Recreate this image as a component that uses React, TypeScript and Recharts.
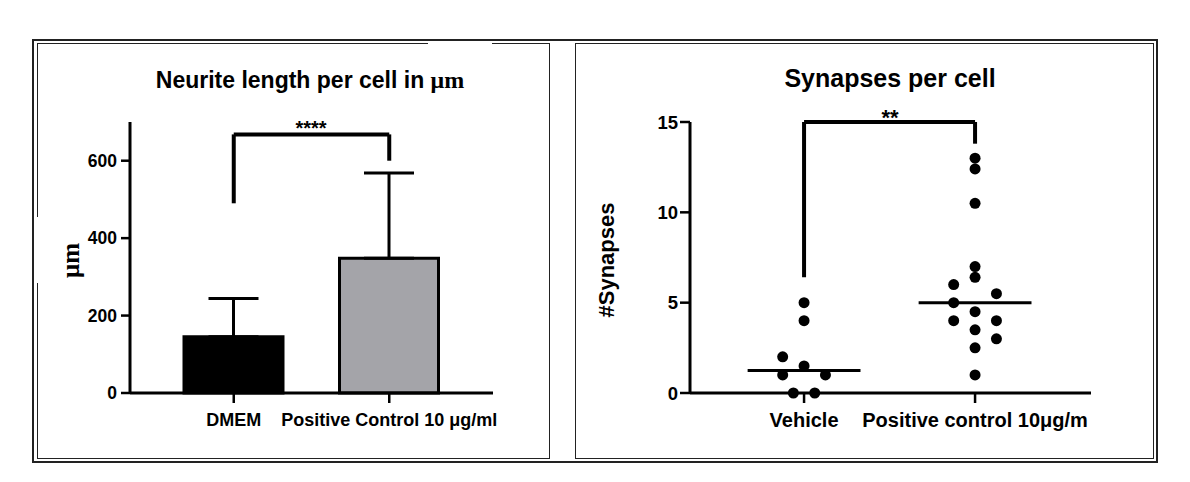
import React from 'react'
import {
  BarChart,
  Bar,
  Cell,
  ErrorBar,
  XAxis,
  YAxis,
  ReferenceLine,
  ScatterChart,
  Scatter,
} from 'recharts'

// Neurite length (left panel)
const neuriteGroups = ['DMEM', 'Positive Control 10 μg/ml']
const neuriteMeans = [145, 348]
const neuriteSD = [99, 220]
const neuriteColors = ['#000000', '#a4a4a9']
const neuriteTicks = [0, 200, 400, 600]
// significance bracket: left leg bottom, top, right leg bottom
const neuriteBracket = [490, 668, 600]

// Synapses (right panel)
const synGroups = ['Vehicle', 'Positive control 10μg/m']
const vehicleValues = [5, 4, 2, 1.5, 1, 1, 0, 0]
const vehicleSlots = [0, 0, -1, 0, -1, 1, -0.5, 0.5]
const positiveValues = [13, 12.4, 10.5, 7, 6.4, 6, 5.5, 5, 4.5, 4, 4, 3.5, 3, 2.5, 1]
const positiveSlots = [0, 0, 0, 0, 0, -1, 1, -1, 0, -1, 1, 0, 1, 0, 0]
const synTicks = [0, 5, 10, 15]
const synBracket = [6.4, 15, 13.8]

const SLOT = 0.125
const MEDIAN_HALF = 0.33

const sans = '"Liberation Sans", Arial, sans-serif'
const serif = '"Liberation Serif", "Times New Roman", serif'

const neuriteData = neuriteGroups.map((name, i) => ({
  name,
  mean: neuriteMeans[i],
  err: [0, neuriteSD[i]],
}))

const toPoints = (values: number[], slots: number[], group: number) =>
  values.map((y, i) => ({ x: group + slots[i] * SLOT, y }))

const median = (values: number[]) => {
  const s = [...values].sort((a, b) => a - b)
  const m = Math.floor(s.length / 2)
  return s.length % 2 ? s[m] : (s[m - 1] + s[m]) / 2
}

const tickStyle = { fill: '#000', fontSize: 17.5, fontWeight: 700, fontFamily: sans }
const dot = (p: { cx?: number; cy?: number }) => <circle cx={p.cx} cy={p.cy} r={5.5} fill="#000" />

function NeuriteChart() {
  const [l, t, r] = neuriteBracket
  return (
    <BarChart
      width={560}
      height={482}
      data={neuriteData}
      margin={{ top: 122, right: 67, left: 70, bottom: 49 }}
    >
      <XAxis
        dataKey="name"
        height={40}
        padding={{ left: 26, right: 26 }}
        axisLine={{ stroke: '#000', strokeWidth: 3 }}
        tickLine={{ stroke: '#000', strokeWidth: 2.5 }}
        tickSize={10}
        tickMargin={10}
        tick={{ ...tickStyle, fontSize: 18 }}
        interval={0}
      />
      <YAxis
        width={60}
        domain={[0, 700]}
        ticks={neuriteTicks}
        axisLine={{ stroke: '#000', strokeWidth: 3 }}
        tickLine={{ stroke: '#000', strokeWidth: 2.5 }}
        tickSize={9}
        tickMargin={4}
        tick={tickStyle}
      />
      <Bar dataKey="mean" barSize={99} isAnimationActive={false}>
        {neuriteData.map((d, i) => (
          <Cell key={d.name} fill={neuriteColors[i]} stroke="#000" strokeWidth={3} />
        ))}
        <ErrorBar dataKey="err" width={25} stroke="#000" strokeWidth={3} direction="y" />
      </Bar>
      <ReferenceLine
        segment={[{ x: neuriteGroups[0], y: l }, { x: neuriteGroups[0], y: t }]}
        stroke="#000"
        strokeWidth={4}
        ifOverflow="visible"
      />
      <ReferenceLine
        segment={[{ x: neuriteGroups[0], y: t }, { x: neuriteGroups[1], y: t }]}
        stroke="#000"
        strokeWidth={4}
        ifOverflow="visible"
      />
      <ReferenceLine
        segment={[{ x: neuriteGroups[1], y: t }, { x: neuriteGroups[1], y: r }]}
        stroke="#000"
        strokeWidth={4}
        ifOverflow="visible"
      />
    </BarChart>
  )
}

function SynapseChart() {
  const vehicle = toPoints(vehicleValues, vehicleSlots, 0)
  const positive = toPoints(positiveValues, positiveSlots, 1)
  const medians = [median(vehicleValues), median(positiveValues)]
  const [l, t, r] = synBracket
  return (
    <ScatterChart width={600} height={482} margin={{ top: 122, right: 74, left: 65, bottom: 49 }}>
      <XAxis
        type="number"
        dataKey="x"
        domain={[-0.667, 1.678]}
        ticks={[0, 1]}
        tickFormatter={(v: number) => synGroups[v] ?? ''}
        height={40}
        axisLine={{ stroke: '#000', strokeWidth: 3 }}
        tickLine={{ stroke: '#000', strokeWidth: 2.5 }}
        tickSize={10}
        tickMargin={10}
        tick={{ ...tickStyle, fontSize: 20 }}
        interval={0}
        allowDataOverflow
      />
      <YAxis
        type="number"
        dataKey="y"
        width={60}
        domain={[0, 15]}
        ticks={synTicks}
        axisLine={{ stroke: '#000', strokeWidth: 3 }}
        tickLine={{ stroke: '#000', strokeWidth: 2.5 }}
        tickSize={10}
        tickMargin={2}
        tick={{ ...tickStyle, fontSize: 18.5 }}
      />
      {medians.map((m, g) => (
        <ReferenceLine
          key={g}
          segment={[{ x: g - MEDIAN_HALF, y: m }, { x: g + MEDIAN_HALF, y: m }]}
          stroke="#000"
          strokeWidth={3}
          ifOverflow="visible"
        />
      ))}
      <ReferenceLine segment={[{ x: 0, y: l }, { x: 0, y: t }]} stroke="#000" strokeWidth={4} ifOverflow="visible" />
      <ReferenceLine segment={[{ x: 0, y: t }, { x: 1, y: t }]} stroke="#000" strokeWidth={4} ifOverflow="visible" />
      <ReferenceLine segment={[{ x: 1, y: t }, { x: 1, y: r }]} stroke="#000" strokeWidth={4} ifOverflow="visible" />
      <Scatter data={vehicle} shape={dot} isAnimationActive={false} />
      <Scatter data={positive} shape={dot} isAnimationActive={false} />
    </ScatterChart>
  )
}

function Overlay() {
  return (
    <svg
      width={1190}
      height={482}
      style={{ position: 'absolute', left: 0, top: 0, pointerEvents: 'none' }}
    >
      {/* frames */}
      <rect x={33} y={40} width={1124} height={422} fill="none" stroke="#222" strokeWidth={2} />
      <rect x={37.5} y={43.5} width={512} height={415} fill="none" stroke="#222" strokeWidth={1} />
      <rect x={575.5} y={43.5} width={578} height={415} fill="none" stroke="#222" strokeWidth={1} />
      <rect x={36} y={217} width={3} height={66} fill="#fff" />
      <rect x={428} y={42} width={64} height={3} fill="#fff" />

      {/* titles */}
      <text x={310} y={88} textAnchor="middle" fontFamily={sans} fontWeight={700} fontSize={23} fill="#000">
        Neurite length per cell in <tspan fontFamily={serif} fontSize={24}>μm</tspan>
      </text>
      <text x={890} y={87} textAnchor="middle" fontFamily={sans} fontWeight={700} fontSize={25} fill="#000">
        Synapses per cell
      </text>

      {/* significance */}
      <text x={311} y={135} textAnchor="middle" fontFamily={sans} fontWeight={700} fontSize={20} fill="#000">
        ****
      </text>
      <text x={890} y={125} textAnchor="middle" fontFamily={sans} fontWeight={700} fontSize={22} fill="#000">
        **
      </text>

      {/* axis titles */}
      <text
        x={78.5}
        y={260.5}
        transform="rotate(-90 78.5 260.5)"
        textAnchor="middle"
        fontFamily={serif}
        fontWeight={700}
        fontSize={25}
        fill="#000"
      >
        μm
      </text>
      <text
        x={614}
        y={260}
        transform="rotate(-90 614 260)"
        textAnchor="middle"
        fontFamily={sans}
        fontWeight={700}
        fontSize={22}
        fill="#000"
      >
        #Synapses
      </text>
    </svg>
  )
}

export default function App() {
  return (
    <div style={{ position: 'absolute', left: 0, top: 0, width: 1190, height: 482, background: '#fff' }}>
      <div style={{ position: 'absolute', left: 0, top: 0 }}>
        <NeuriteChart />
      </div>
      <div style={{ position: 'absolute', left: 565, top: 0 }}>
        <SynapseChart />
      </div>
      <Overlay />
    </div>
  )
}
